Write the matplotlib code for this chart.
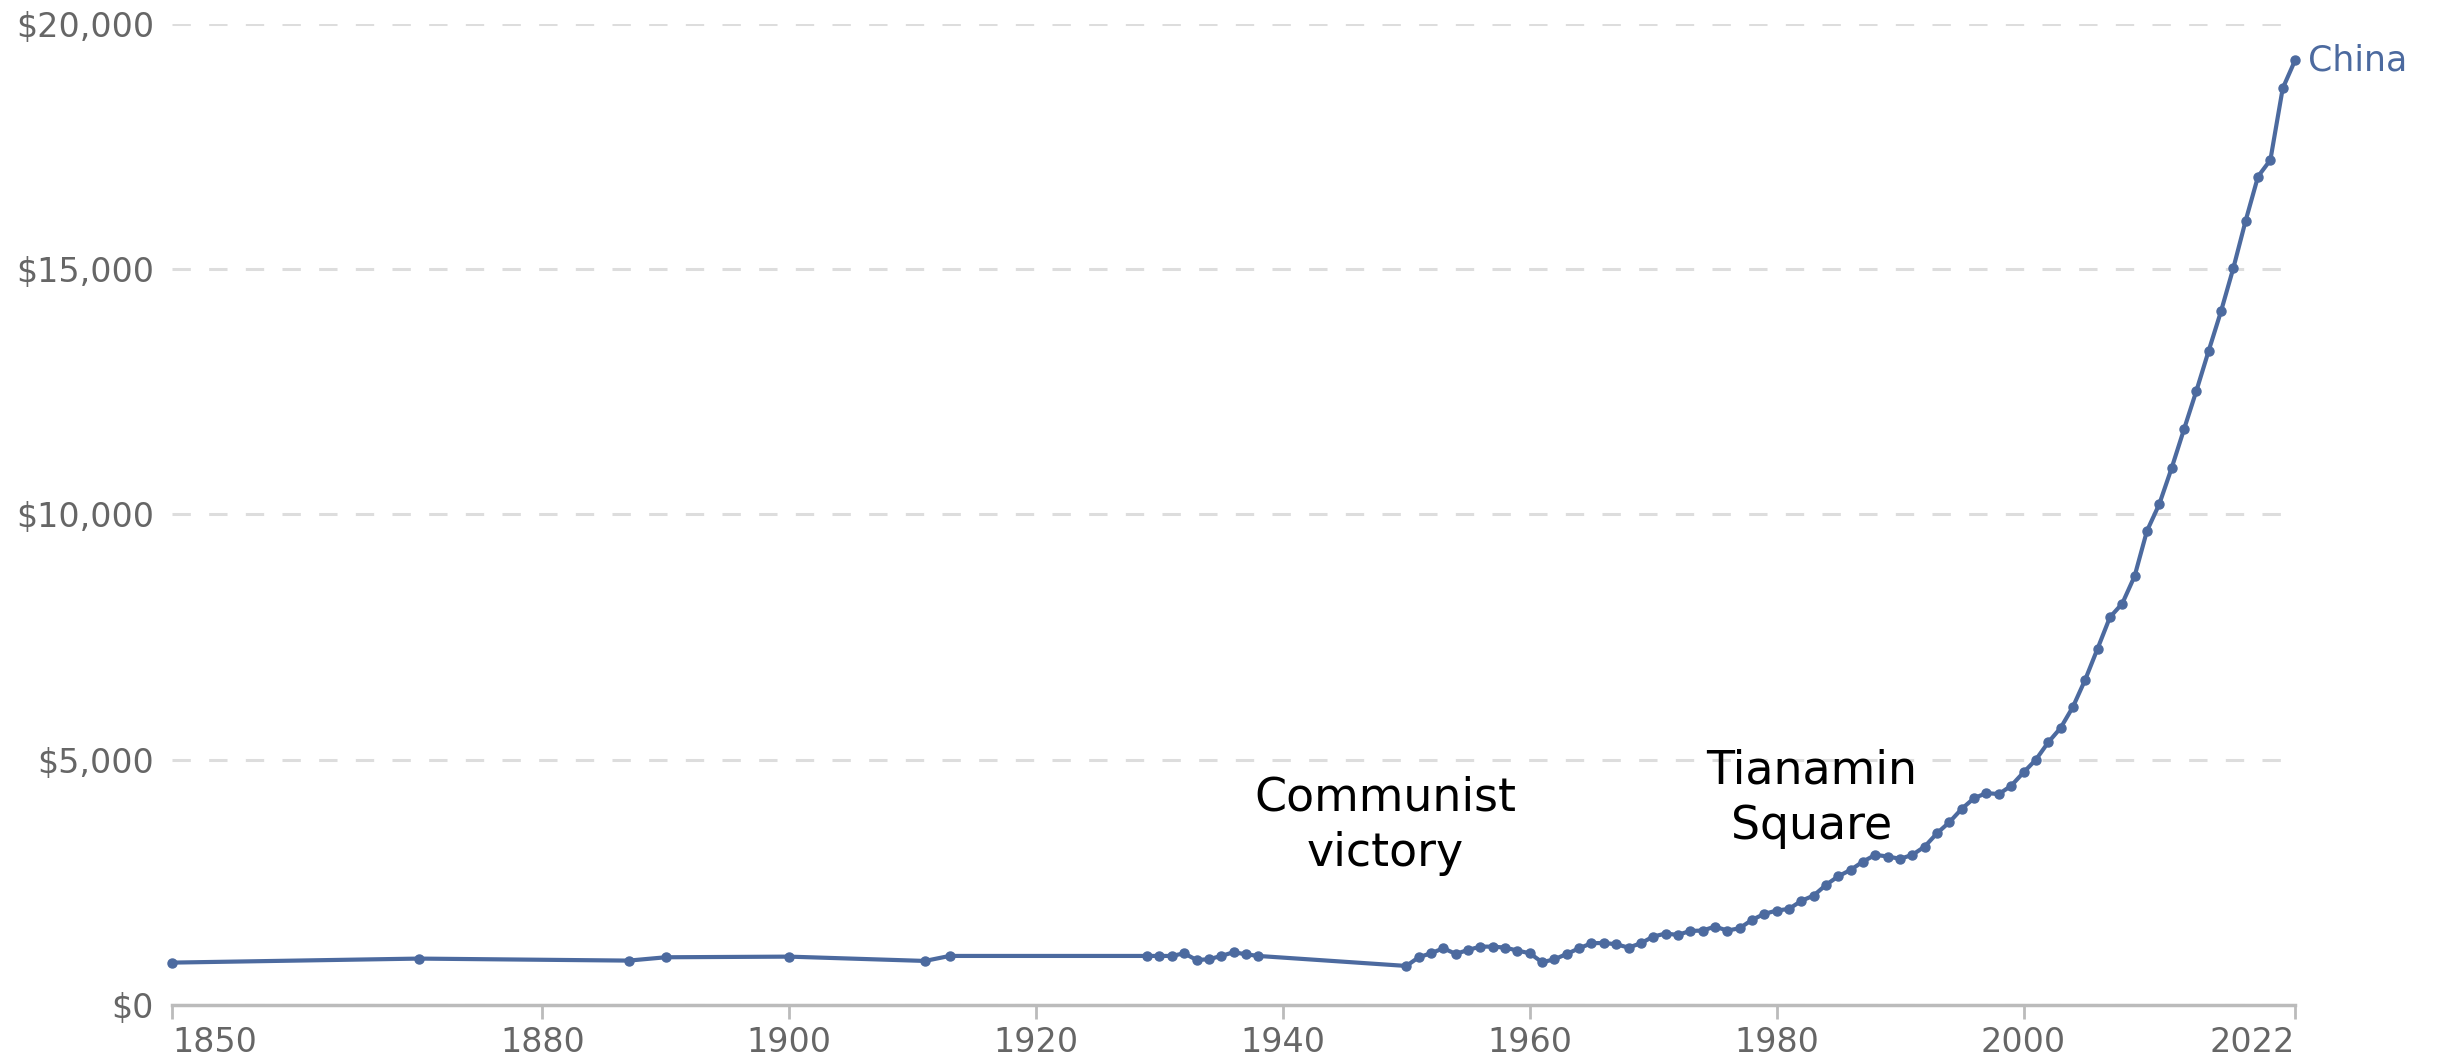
import matplotlib
matplotlib.use("Agg")
import matplotlib.pyplot as plt
from matplotlib.ticker import FuncFormatter

years = [1850, 1870, 1887, 1890, 1900, 1911, 1913,
         1929, 1930, 1931, 1932, 1933, 1934, 1935, 1936, 1937, 1938,
         1950, 1951, 1952, 1953, 1954, 1955, 1956, 1957, 1958, 1959,
         1960, 1961, 1962, 1963, 1964, 1965, 1966, 1967, 1968, 1969,
         1970, 1971, 1972, 1973, 1974, 1975, 1976, 1977, 1978, 1979,
         1980, 1981, 1982, 1983, 1984, 1985, 1986, 1987, 1988, 1989,
         1990, 1991, 1992, 1993, 1994, 1995, 1996, 1997, 1998, 1999,
         2000, 2001, 2002, 2003, 2004, 2005, 2006, 2007, 2008, 2009,
         2010, 2011, 2012, 2013, 2014, 2015, 2016, 2017, 2018, 2019,
         2020, 2021, 2022]
gdp = [864, 946, 905, 973, 986, 898, 1000,
       1000, 1000, 1000, 1054, 918, 932, 1000, 1075, 1034, 1000,
       796, 973, 1055, 1157, 1041, 1123, 1190, 1190, 1170, 1109,
       1055, 871, 932, 1041, 1157, 1259, 1265, 1238, 1170, 1259,
       1395, 1456, 1429, 1510, 1517, 1599, 1517, 1565, 1735, 1857,
       1925, 1959, 2123, 2231, 2449, 2625, 2755, 2925, 3061, 3027,
       2980, 3061, 3231, 3503, 3728, 4000, 4218, 4320, 4300, 4469,
       4741, 5000, 5354, 5646, 6075, 6633, 7265, 7904, 8184, 8742,
       9664, 10211, 10945, 11734, 12516, 13336, 14141, 15023, 15992, 16890,
       17227, 18687, 19258]

x_ticks = [1850, 1880, 1900, 1920, 1940, 1960, 1980, 2000, 2022]
y_ticks = [0, 5000, 10000, 15000, 20000]
series_name = "China"
annotations = [("Communist\nvictory", 1948.3, 3650), ("Tianamin\nSquare", 1982.8, 4200)]

line_color = "#4c6a9f"
tick_color = "#666666"

fig = plt.figure(figsize=(24.4, 10.55), dpi=100)
ax = fig.add_axes([0.0705, 0.0474, 0.8701, 0.9299])

ax.plot(years, gdp, color=line_color, lw=3.0, marker="o", ms=6.5,
        mec=line_color, mfc=line_color, clip_on=False, zorder=3)

ax.set_xlim(years[0], years[-1])
ax.set_ylim(0, 20000)

ax.set_yticks(y_ticks)
ax.yaxis.set_major_formatter(FuncFormatter(lambda v, p: f"${v:,.0f}"))
ax.set_xticks(x_ticks)
ax.set_xticklabels([str(t) for t in x_ticks])

for sp in ["top", "right", "left"]:
    ax.spines[sp].set_visible(False)
ax.spines["bottom"].set_color("#bbbbbb")
ax.spines["bottom"].set_linewidth(2.5)

ax.tick_params(axis="y", length=0, pad=13, labelsize=24, labelcolor=tick_color)
ax.tick_params(axis="x", length=10, width=2, color="#bbbbbb", pad=5,
               labelsize=24, labelcolor=tick_color)
for lab in ax.get_yticklabels() + ax.get_xticklabels():
    lab.set_fontfamily("DejaVu Sans")
xl = ax.get_xticklabels()
xl[0].set_horizontalalignment("left")
xl[-1].set_horizontalalignment("right")

ax.yaxis.grid(True, color="#dddddd", lw=2.2, dashes=(6, 6))
ax.set_axisbelow(True)
ax.xaxis.grid(False)

ax.annotate(series_name, xy=(years[-1], gdp[-1]), xytext=(9, 0),
            textcoords="offset points", ha="left", va="center",
            fontsize=25, color=line_color, family="DejaVu Sans",
            annotation_clip=False)

for txt, xx, yy in annotations:
    ax.text(xx, yy, txt, ha="center", va="center", fontsize=33,
            color="black", family="DejaVu Sans", linespacing=1.3)

fig.savefig("out.png", dpi=100, facecolor="white")
